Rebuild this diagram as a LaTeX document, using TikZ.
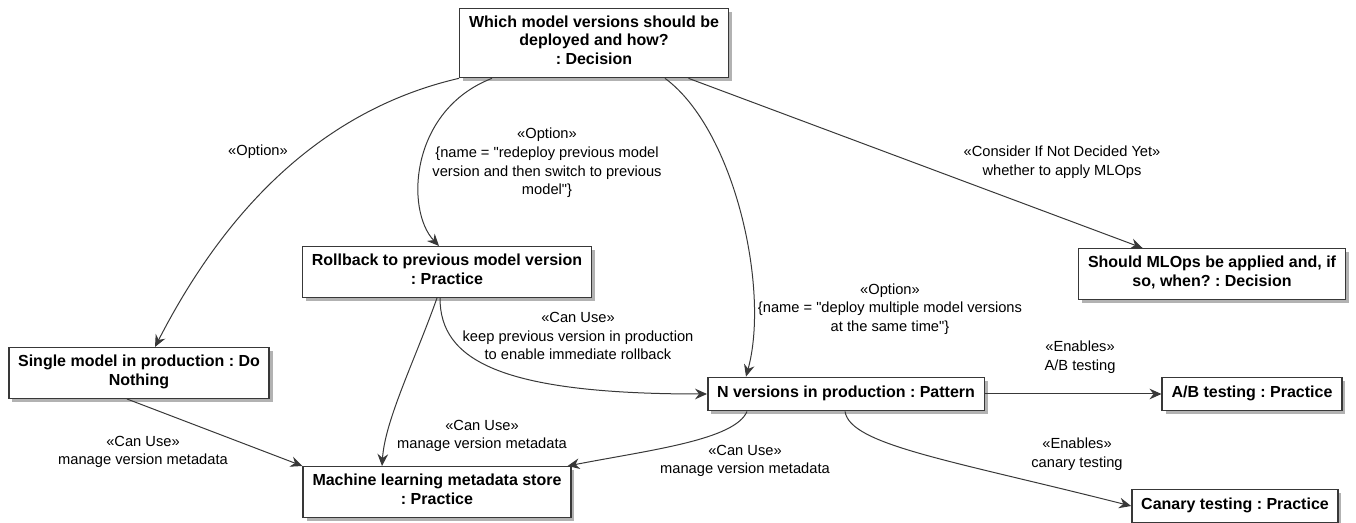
\documentclass[tikz,border=0pt]{standalone}
\usepackage{fontspec}
\setmainfont{Liberation Sans}
\usetikzlibrary{arrows.meta,calc,shadows}
\definecolor{uml-line}{HTML}{383838}
\frenchspacing

\begin{document}
\begin{tikzpicture}[
  x=0.75pt, y=-0.75pt,
  element/.style={
    rectangle, draw=uml-line, line width=1.1pt, fill=white,
    drop shadow={shadow xshift=2.5pt, shadow yshift=-2.5pt, fill=black, opacity=0.3},
    align=center, inner xsep=7pt, inner ysep=5.5pt,
    font=\fontsize{12}{14}\selectfont\bfseries,
    execute at begin node=\strut, execute at end node=\strut
  },
  tag/.style={
    align=center, inner sep=0pt,
    font=\fontsize{11}{14}\selectfont
  },
  link/.style={
    -{Stealth[length=9pt,width=8pt,inset=3pt]}, uml-line, line width=0.75pt
  }
]
\useasboundingbox (0,0) rectangle (1356,523);

%% Elements
\node[element] (dec) at (594,43) {Which model versions should be\\deployed and how?\\: Decision};
\node[element] (rollback) at (447,272) {Rollback to previous model version\\: Practice};
\node[element] (should) at (1212,274) {Should MLOps be applied and, if\\so, when? : Decision};
\node[element] (single) at (139,373) {Single model in production : Do\\Nothing};
\node[element] (nver) at (846,394) {N versions in production : Pattern};
\node[element] (ab) at (1252,394) {A/B testing : Practice};
\node[element] (ml) at (437,492) {Machine learning metadata store\\: Practice};
\node[element] (canary) at (1235,506) {Canary testing : Practice};

%% Relation labels
\node[tag] (t-opt) at (258,152) {«Option»};
\node[tag] (t-roll) at (547,163) {«Option»\\\{name = \textquotedbl redeploy previous model\\version and then switch to previous\\model\textquotedbl\}};
\node[tag] (t-cons) at (1062,162) {«Consider If Not Decided Yet»\\whether to apply MLOps};
\node[tag] (t-nver) at (890,309) {«Option»\\\{name = \textquotedbl deploy multiple model versions\\at the same time\textquotedbl\}};
\node[tag] (t-keep) at (578,336) {«Can Use»\\keep previous version in production\\to enable immediate rollback};
\node[tag] (t-single) at (143,452) {«Can Use»\\manage version metadata};
\node[tag] (t-rollml) at (482,436) {«Can Use»\\manage version metadata};
\node[tag] (t-nverml) at (745,461) {«Can Use»\\manage version metadata};
\node[tag] (t-ab) at (1080,357) {«Enables»\\A/B testing};
\node[tag] (t-can) at (1077,454) {«Enables»\\canary testing};

%% Relations
\draw[link] (dec.south west) .. controls (300,115) and (210,240) .. ($(single.north)+(16,0)$);
\draw[link] ($(dec.south)+(-102,0)$) .. controls (410,110) and (405,210) .. ($(rollback.north)+(-8,0)$);
\draw[link] ($(dec.south)+(71,0)$) .. controls (735,130) and (770,290) .. ($(nver.north)+(-100,0)$);
\draw[link] (dec) -- (should);
\draw[link] ($(rollback.south)+(-7,0)$) .. controls (440,360) and (500,394) .. (nver.west);
\draw[link] ($(rollback.south)+(-10,0)$) .. controls (415,360) and (385,420) .. ($(ml.north)+(-55,0)$);
\draw[link] ($(single.south)+(-12,0)$) -- (ml.north west);
\draw[link] ($(nver.south)+(-99,0)$) .. controls (735,440) and (650,450) .. ($(ml.north east)+(-4,0)$);
\draw[link] (nver) -- (ab);
\draw[link] ($(nver.south)+(-1,0)$) .. controls (850,445) and (950,460) .. (canary.west);

\end{tikzpicture}
\end{document}
